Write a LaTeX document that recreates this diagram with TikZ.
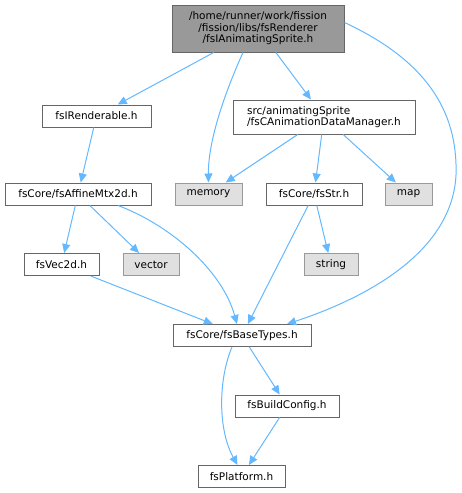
\documentclass[tikz,border=0pt]{standalone}
\usepackage{fontspec}
\setmainfont{DejaVu Sans}
\usetikzlibrary{arrows.meta}
\definecolor{edgeblue}{HTML}{63B8FF}
\definecolor{boxline}{HTML}{666666}
\definecolor{sysline}{HTML}{999999}
\definecolor{sysfill}{HTML}{E0E0E0}
\definecolor{rootfill}{HTML}{999999}
\begin{document}
\begin{tikzpicture}[x=1pt,y=-1pt,line width=1pt,
    every node/.style={font=\fontsize{10.5}{11.5}\selectfont},
    file/.style={draw=boxline,fill=white,inner sep=0pt,minimum height=22pt},
    sys/.style={draw=sysline,fill=sysfill,inner sep=0pt,minimum height=22pt},
    dep/.style={draw=edgeblue,-{Triangle[length=9pt,width=8pt]}}]
      \useasboundingbox (0,0) rectangle (461,493);

      \node[file,fill=rootfill,minimum width=172pt,minimum height=47pt,align=center] (root) at (258,28.5)
        {/home/runner/work/fission\\/fission/libs/fsRenderer\\/fsIAnimatingSprite.h};
      \node[file,minimum width=109pt] (rend) at (96.5,116) {fsIRenderable.h};
      \node[file,minimum width=182pt,minimum height=34pt,align=left] (anim) at (324,117)
        {src/animatingSprite\\/fsCAnimationDataManager.h};
      \node[file,minimum width=146pt] (affine) at (78,194) {fsCore/fsAffineMtx2d.h};
      \node[sys,minimum width=67pt] (memory) at (208.5,194) {memory};
      \node[file,minimum width=96pt] (str) at (314,194) {fsCore/fsStr.h};
      \node[sys,minimum width=47pt] (map) at (408.5,194) {map};
      \node[file,minimum width=75pt] (vec) at (61.5,264.5) {fsVec2d.h};
      \node[sys,minimum width=56pt] (vector) at (151,264.5) {vector};
      \node[sys,minimum width=54pt] (string) at (331,264.5) {string};
      \node[file,minimum width=138pt] (base) at (242,335.5) {fsCore/fsBaseTypes.h};
      \node[file,minimum width=104pt] (build) at (287,406) {fsBuildConfig.h};
      \node[file,minimum width=87pt] (platform) at (241.5,476.5) {fsPlatform.h};

      % straight includes
      \draw[dep] (root) -- (rend);
      \draw[dep] (root) -- (anim);
      \draw[dep] (rend) -- (affine);
      \draw[dep] (anim) -- (memory);
      \draw[dep] (anim) -- (str);
      \draw[dep] (anim) -- (map);
      \draw[dep] (affine) -- (vec);
      \draw[dep] (affine) -- (vector);
      \draw[dep] (str) -- (base);
      \draw[dep] (str) -- (string);
      \draw[dep] (vec) -- (base);
      \draw[dep] (base) -- (build);
      \draw[dep] (build) -- (platform);

      % curved includes
      \draw[dep] ([xshift=-15pt]root.south) .. controls (226,90) and (208,140) .. (memory.north);
      \draw[dep] ([yshift=6pt]root.east) .. controls (425,60) and (458,110) .. (456,175)
                 .. controls (452,255) and (360,300) .. ([xshift=45pt]base.north);
      \draw[dep] ([xshift=40pt]affine.south) .. controls (170,225) and (222,270) .. ([xshift=-5pt]base.north);
      \draw[dep] ([xshift=-10pt]base.south) .. controls (218,380) and (218,430) .. ([xshift=-4pt]platform.north);
    \end{tikzpicture}
\end{document}
